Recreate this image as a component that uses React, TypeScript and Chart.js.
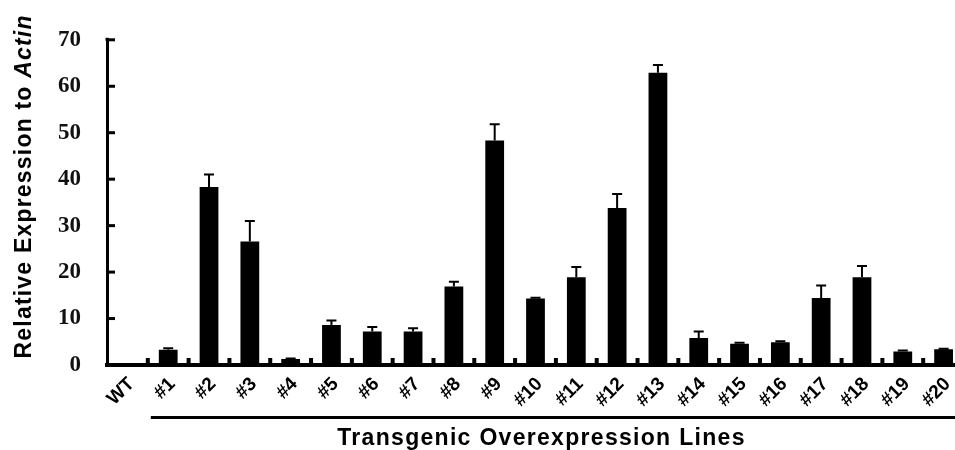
import React, { useEffect, useRef } from "react";
import { Chart, registerables } from "chart.js";

Chart.register(...registerables);

const categories = ["WT", "#1", "#2", "#3", "#4", "#5", "#6", "#7", "#8", "#9", "#10", "#11", "#12", "#13", "#14", "#15", "#16", "#17", "#18", "#19", "#20"];
const expression = [0, 3.3, 38.3, 26.6, 1.3, 8.6, 7.2, 7.2, 16.9, 48.3, 14.3, 18.9, 33.8, 62.9, 5.8, 4.6, 4.9, 14.4, 18.9, 2.9, 3.4];
const errors = [0, 0.3, 2.7, 4.4, 0.1, 1.0, 1.0, 0.7, 1.0, 3.5, 0.2, 2.2, 3.0, 1.7, 1.4, 0.2, 0.2, 2.7, 2.4, 0.2, 0.1];
const yTicks = [0, 10, 20, 30, 40, 50, 60, 70];
const yTitleMain = "Relative Expression to ";
const yTitleItalic = "Actin";
const xTitle = "Transgenic Overexpression Lines";

const CANVAS_W = 975;
const CANVAS_H = 450;

const decorPlugin = {
  id: "decor",
  afterDatasetsDraw(chart: any) {
    const { ctx, chartArea } = chart;
    const x = chart.scales.x;
    const y = chart.scales.y;
    ctx.save();
    ctx.fillStyle = "#000";
    ctx.strokeStyle = "#000";

    // error bars
    const meta = chart.getDatasetMeta(0);
    ctx.lineWidth = 2;
    meta.data.forEach((bar: any, i: number) => {
      const e = errors[i];
      if (!e) return;
      const base = y.getPixelForValue(expression[i]);
      const top = y.getPixelForValue(expression[i] + e);
      ctx.beginPath();
      ctx.moveTo(bar.x, base);
      ctx.lineTo(bar.x, top);
      ctx.moveTo(bar.x - 5, top);
      ctx.lineTo(bar.x + 5, top);
      ctx.stroke();
    });

    // inward x tick bumps at category boundaries
    for (let i = 1; i <= categories.length; i++) {
      const px = x.getPixelForValue(i - 0.5);
      ctx.fillRect(px - 2, chartArea.bottom - 7, 4, 7);
    }

    // inward y ticks
    yTicks.forEach((v) => {
      const py = y.getPixelForValue(v);
      ctx.fillRect(chartArea.left, py - 1.5, 8, 3);
    });
    // small extension of the y axis above the top tick
    ctx.fillRect(chartArea.left - 1.5, chartArea.top - 2, 3, 3);

    // bracket line under the transgenic lines
    const bx0 = x.getPixelForValue(0.5) + 3;
    const bx1 = x.getPixelForValue(categories.length - 0.5);
    ctx.fillRect(bx0, chartArea.bottom + 51, bx1 - bx0, 3);

    // x title
    ctx.font = "bold 23px 'Liberation Sans', Arial, sans-serif";
    (ctx as any).letterSpacing = "1.3px";
    ctx.textAlign = "center";
    ctx.textBaseline = "alphabetic";
    ctx.fillText(xTitle, (chartArea.left + chartArea.right) / 2 + 6, chartArea.bottom + 80);

    // y title (mixed italic)
    (ctx as any).letterSpacing = "1.2px";
    const mainFont = "bold 23px 'Liberation Sans', Arial, sans-serif";
    const italFont = "italic bold 23px 'Liberation Sans', Arial, sans-serif";
    ctx.font = mainFont;
    const w1 = ctx.measureText(yTitleMain).width;
    ctx.font = italFont;
    const w2 = ctx.measureText(yTitleItalic).width;
    const total = w1 + w2;
    const cy = (chartArea.top + chartArea.bottom) / 2 - 16;
    ctx.translate(31, cy);
    ctx.rotate(-Math.PI / 2);
    ctx.textAlign = "left";
    ctx.font = mainFont;
    ctx.fillText(yTitleMain, -total / 2, 0);
    ctx.font = italFont;
    ctx.fillText(yTitleItalic, -total / 2 + w1, 0);
    (ctx as any).letterSpacing = "0px";
    ctx.restore();
  },
};

export default function App() {
  const canvasRef = useRef<HTMLCanvasElement | null>(null);

  useEffect(() => {
    if (!canvasRef.current) return;
    const chart = new Chart(canvasRef.current, {
      type: "bar",
      data: {
        labels: categories,
        datasets: [
          {
            data: expression,
            backgroundColor: "#000",
            borderWidth: 0,
            categoryPercentage: 1,
            barPercentage: 0.46,
          },
        ],
      },
      options: {
        animation: false,
        responsive: false,
        devicePixelRatio: 1,
        layout: { padding: { top: 20, right: CANVAS_W - 964, left: 0, bottom: 0 } },
        plugins: {
          legend: { display: false },
          tooltip: { enabled: false },
          title: { display: false },
        },
        scales: {
          x: {
            grid: { display: true, drawOnChartArea: false, drawTicks: false, color: "rgba(0,0,0,0)" },
            border: { display: true, color: "#000", width: 4 },
            ticks: {
              color: "#000",
              font: { family: "'Liberation Sans', Arial, sans-serif", size: 19, weight: "bold" },
              minRotation: 45,
              maxRotation: 45,
              autoSkip: false,
              padding: 8,
              labelOffset: 4,
            },
            afterFit: (scale: any) => {
              scale.height = 85;
            },
          },
          y: {
            min: 0,
            max: 70,
            grid: { display: true, drawOnChartArea: false, drawTicks: false, color: "rgba(0,0,0,0)" },
            border: { display: true, color: "#000", width: 3 },
            ticks: {
              stepSize: 10,
              color: "#111",
              font: { family: "'Liberation Serif', 'Times New Roman', serif", size: 23, weight: "bold" },
              padding: 26,
            },
            afterFit: (scale: any) => {
              scale.width = 107;
            },
          },
        },
      },
      plugins: [decorPlugin],
    });
    return () => chart.destroy();
  }, []);

  return (
    <div style={{ position: "fixed", left: 0, top: 0, width: 955, height: 450, overflow: "hidden", background: "#fff" }}>
      <canvas ref={canvasRef} width={CANVAS_W} height={CANVAS_H} style={{ display: "block", width: CANVAS_W, height: CANVAS_H }} />
    </div>
  );
}
